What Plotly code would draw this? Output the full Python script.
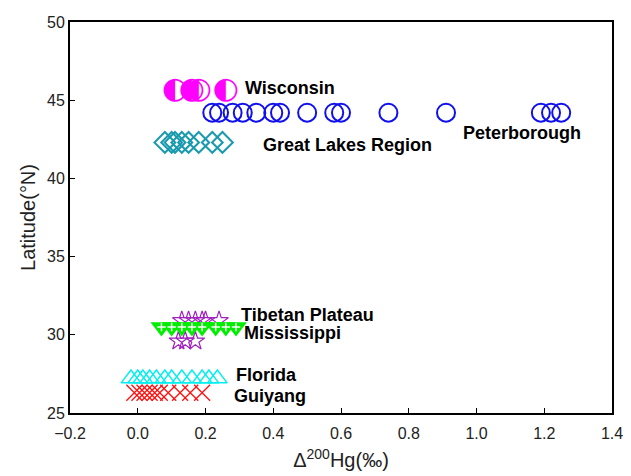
import plotly.graph_objects as go

# Data (Δ200Hg ‰, latitude °N)
wisconsin_x = [0.11, 0.16, 0.18, 0.26]
wisconsin_lat = [45.6] * len(wisconsin_x)

peterborough_x = [0.22, 0.24, 0.28, 0.31, 0.35, 0.40, 0.42, 0.50, 0.58, 0.60,
                  0.74, 0.91, 1.19, 1.22, 1.25]
peterborough_lat = [44.2] * len(peterborough_x)

greatlakes_x = [0.08, 0.10, 0.11, 0.13, 0.15, 0.18, 0.22, 0.25]
greatlakes_lat = [42.3] * len(greatlakes_x)

tibet_x = [0.13, 0.15, 0.17, 0.19, 0.20, 0.24, 0.12, 0.14, 0.17]
tibet_lat = [30.9, 30.9, 30.9, 30.9, 30.9, 30.9, 29.6, 29.6, 29.6]

mississippi_x = [0.07, 0.10, 0.13, 0.16, 0.19, 0.23, 0.26, 0.29]
mississippi_lat = [30.5] * len(mississippi_x)

florida_x = [-0.02, 0.00, 0.015, 0.035, 0.055, 0.08, 0.10, 0.13, 0.16, 0.19, 0.21, 0.235]
florida_lat = [27.2] * len(florida_x)

guiyang_x = [-0.01, 0.005, 0.02, 0.035, 0.05, 0.065, 0.09, 0.125, 0.155, 0.19]
guiyang_lat = [26.3] * len(guiyang_x)

labels = ["Wisconsin", "Peterborough", "Great Lakes Region", "Tibetan Plateau",
          "Mississippi", "Florida", "Guiyang"]
label_x = [0.312, 0.955, 0.365, 0.300, 0.309, 0.285, 0.279]
label_lat = [45.75, 42.9, 42.14, 31.27, 30.1, 27.43, 26.09]

fig = go.Figure()

fig.add_trace(go.Scatter(x=peterborough_x, y=peterborough_lat, mode="markers",
                         marker=dict(symbol="circle-open", size=18, color="#1010ee",
                                     line=dict(width=2))))
fig.add_trace(go.Scatter(x=greatlakes_x, y=greatlakes_lat, mode="markers",
                         marker=dict(symbol="diamond-open", size=16, color="#1a9aae",
                                     line=dict(width=2))))
fig.add_trace(go.Scatter(x=tibet_x, y=tibet_lat, mode="markers",
                         marker=dict(symbol="star-open", size=14, color="#a020c0",
                                     line=dict(width=1.2))))
fig.add_trace(go.Scatter(x=mississippi_x, y=mississippi_lat, mode="markers",
                         marker=dict(symbol="triangle-down", size=19, color="#00ee00",
                                     line=dict(width=0))))
fig.add_trace(go.Scatter(x=mississippi_x, y=mississippi_lat, mode="markers",
                         marker=dict(symbol="cross-thin-open", size=6, color="white",
                                     line=dict(width=1.5, color="white"))))
fig.add_trace(go.Scatter(x=florida_x, y=florida_lat, mode="markers",
                         marker=dict(symbol="triangle-up-open", size=17, color="#00f0f0",
                                     line=dict(width=1.5))))
fig.add_trace(go.Scatter(x=guiyang_x, y=guiyang_lat, mode="markers",
                         marker=dict(symbol="x-thin-open", size=16, color="#ff1010",
                                     line=dict(width=1.3, color="#ff1010"))))
fig.add_trace(go.Scatter(x=wisconsin_x, y=wisconsin_lat, mode="text", text=["◐"] * len(wisconsin_x),
                         textposition="middle center",
                         textfont=dict(family="DejaVu Sans", size=30, color="#ff00ff")))

for t, lx, ly in zip(labels, label_x, label_lat):
    fig.add_annotation(x=lx, y=ly, text="<b>%s</b>" % t, showarrow=False,
                       xanchor="left", yanchor="middle",
                       font=dict(family="Liberation Sans, Arial", size=18, color="black"))

fig.update_layout(
    width=631, height=476,
    margin=dict(l=70, r=19, t=22, b=63),
    paper_bgcolor="white", plot_bgcolor="white",
    showlegend=False,
    font=dict(family="Liberation Sans, Arial", size=16, color="#222"),
)
fig.update_xaxes(range=[-0.2, 1.4], dtick=0.2, tick0=-0.2, tickformat=".1f",
                 showgrid=False, zeroline=False, showline=True, linecolor="black",
                 linewidth=2, mirror=True, ticks="inside", ticklen=5, tickcolor="black",
                 ticklabelstandoff=5, automargin=False,
                 title=dict(text="Δ<sup>200</sup>Hg(‰)", standoff=12,
                            font=dict(size=20)))
fig.update_yaxes(range=[25, 50], dtick=5, showgrid=False, zeroline=False,
                 showline=True, linecolor="black", linewidth=2, mirror=True,
                 ticks="inside", ticklen=5, tickcolor="black", automargin=False,
                 title=dict(text="Latitude(°N)", standoff=6, font=dict(size=20)))

fig.write_html("out.html")
